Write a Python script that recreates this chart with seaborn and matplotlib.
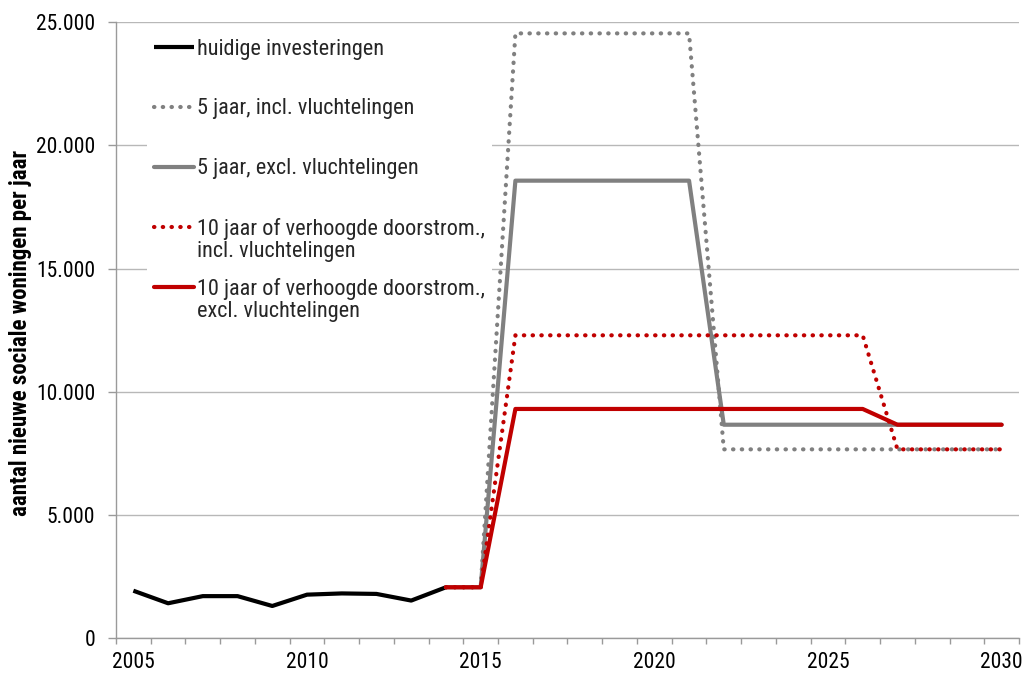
import numpy as np
import pandas as pd
import matplotlib
matplotlib.use("Agg")
import matplotlib.pyplot as plt
from matplotlib import font_manager
from matplotlib.ticker import FuncFormatter, MultipleLocator
from matplotlib.legend_handler import HandlerLine2D
import seaborn as sns

# ---- data ----
years_hist = [2005, 2006, 2007, 2008, 2009, 2010, 2011, 2012, 2013, 2014]
huidig = [1920, 1410, 1700, 1700, 1300, 1760, 1810, 1790, 1520, 2060]

years_scen = [2014, 2015, 2016, 2017, 2018, 2019, 2020, 2021, 2022,
              2023, 2024, 2025, 2026, 2027, 2028, 2029, 2030]
vijf_incl = [2060, 2060, 24550, 24550, 24550, 24550, 24550, 24550, 7660,
             7660, 7660, 7660, 7660, 7660, 7660, 7660, 7660]
vijf_excl = [2060, 2060, 18570, 18570, 18570, 18570, 18570, 18570, 8660,
             8660, 8660, 8660, 8660, 8660, 8660, 8660, 8660]
tien_incl = [2060, 2060, 12290, 12290, 12290, 12290, 12290, 12290, 12290,
             12290, 12290, 12290, 12290, 7660, 7660, 7660, 7660]
tien_excl = [2060, 2060, 9300, 9300, 9300, 9300, 9300, 9300, 9300,
             9300, 9300, 9300, 9300, 8660, 8660, 8660, 8660]

labels = ["huidige investeringen",
          "5 jaar, incl. vluchtelingen",
          "5 jaar, excl. vluchtelingen",
          "10 jaar of verhoogde doorstrom.,\nincl. vluchtelingen",
          "10 jaar of verhoogde doorstrom.,\nexcl. vluchtelingen"]
ylabel = "aantal nieuwe sociale woningen per jaar"
xticks = [2005, 2010, 2015, 2020, 2025, 2030]

# ---- style ----
sns.set_theme(style="white")
names = {f.name for f in font_manager.fontManager.ttflist}
fam = "DejaVu Sans"
for cand in ["Liberation Sans Narrow", "Arial Narrow", "Roboto Condensed", "Liberation Sans"]:
    if cand in names:
        fam = cand
        break
plt.rcParams["font.family"] = [fam, "DejaVu Sans"]

GRID = "#b8b8b8"
AX = "#9a9a9a"
RED = "#c00000"
GRAY = "#808080"
dots = (0, (0.1, 2.0))

fig = plt.figure(figsize=(10.23, 6.75), dpi=100)
ax = fig.add_axes([116 / 1023, 37 / 675, 903 / 1023, 615.7 / 675])

sns.lineplot(x=years_hist, y=huidig, ax=ax, color="black", lw=3.0,
             label=labels[0] + "\n", solid_capstyle="butt")
sns.lineplot(x=years_scen, y=vijf_incl, ax=ax, color=GRAY, lw=3.0,
             linestyle=dots, dash_capstyle="round", label=labels[1] + "\n")
sns.lineplot(x=years_scen, y=vijf_excl, ax=ax, color=GRAY, lw=3.0,
             label=labels[2] + "\n")
sns.lineplot(x=years_scen, y=tien_incl, ax=ax, color=RED, lw=3.0,
             linestyle=dots, dash_capstyle="round", label=labels[3])
sns.lineplot(x=years_scen, y=tien_excl, ax=ax, color=RED, lw=3.0,
             label=labels[4])

ax.set_xlim(2004.5, 2030.5)
ax.set_ylim(0, 25000)
ax.set_xticks(xticks)
ax.xaxis.set_minor_locator(MultipleLocator(1, offset=0.5))
ax.yaxis.set_major_locator(MultipleLocator(5000))
ax.yaxis.set_major_formatter(FuncFormatter(lambda v, p: f"{v:,.0f}".replace(",", ".")))

ax.tick_params(axis="x", which="major", length=0, pad=10, labelsize=15.5, colors="black")
ax.tick_params(axis="x", which="minor", length=4.5, width=1, color=AX, direction="out", bottom=True)
ax.tick_params(axis="y", which="major", length=6, width=1, color=AX, direction="out",
               pad=9, labelsize=15.5, left=True, labelcolor="black")

ax.grid(axis="y", color=GRID, lw=1)
ax.set_axisbelow(True)
for s in ["top", "right"]:
    ax.spines[s].set_visible(False)
for s in ["left", "bottom"]:
    ax.spines[s].set_color(AX)
    ax.spines[s].set_linewidth(1)

ax.set_xlabel("")
ax.set_ylabel(ylabel, fontsize=16.5, fontweight="bold", color="black")
ax.yaxis.set_label_coords(-(116 - 32) / 903, 0.496)


class TopHandler(HandlerLine2D):
    def __init__(self, shift, **kw):
        super().__init__(**kw)
        self.shift = shift

    def create_artists(self, legend, orig_handle, xdescent, ydescent, width, height,
                       fontsize, trans):
        arts = super().create_artists(legend, orig_handle, xdescent, ydescent, width,
                                      height, fontsize, trans)
        for a in arts:
            a.set_ydata(np.asarray(a.get_ydata()) + self.shift)
        return arts


handles, labs = ax.get_legend_handles_labels()
hmap = {h: TopHandler(9.4) for h in handles}
leg = ax.legend(handles, labs, loc="upper left",
                bbox_to_anchor=((147 - 116) / 903, 1 - (32 - 22.3) / 615.7),
                borderaxespad=0, borderpad=0.3, fontsize=16, frameon=True,
                facecolor="white", edgecolor="none", framealpha=1, fancybox=False,
                handlelength=1.8, handletextpad=0.15, labelspacing=0.76,
                handler_map=hmap)
for t in leg.get_texts():
    t.set_linespacing(1.05)

fig.savefig("out.png", dpi=100)
